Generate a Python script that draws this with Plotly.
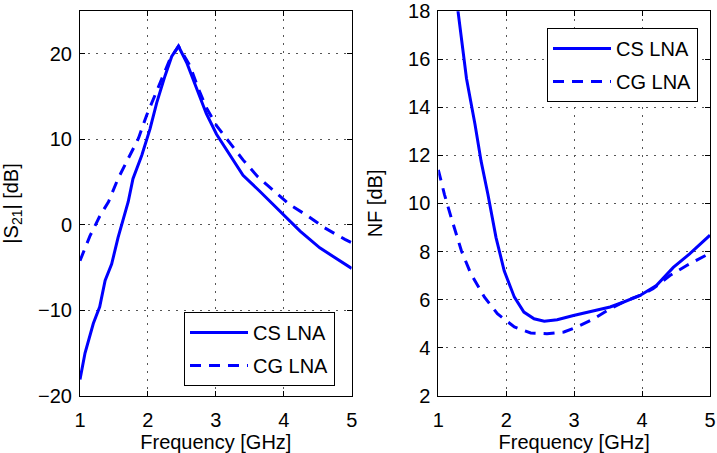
import plotly.graph_objects as go

# ---- Data ----
freq_s21_cs = [1.0, 1.074, 1.196, 1.29, 1.37, 1.466, 1.56, 1.637, 1.71, 1.78, 1.91, 2.03,
               2.13, 2.25, 2.35, 2.45, 2.57, 2.72, 2.86, 3.01, 3.21, 3.40, 3.65, 3.94,
               4.24, 4.53, 4.82, 5.0]
s21_cs = [-18.1, -15.0, -11.55, -9.6, -6.5, -4.6, -1.5, 0.6, 2.7, 5.4, 8.15, 11.2,
          14.3, 17.4, 19.7, 20.9, 19.0, 15.9, 13.0, 10.6, 8.15, 5.8, 3.9, 1.58,
          -0.74, -2.7, -4.2, -5.1]

freq_s21_cg = [1.0, 1.147, 1.29, 1.42, 1.56, 1.71, 1.86, 1.98, 2.10, 2.20, 2.32, 2.45,
               2.62, 2.74, 2.86, 3.01, 3.21, 3.40, 3.62, 3.84, 4.09, 4.36, 4.60, 4.90, 5.0]
s21_cg = [-4.2, -1.3, 1.0, 2.7, 5.4, 7.75, 10.1, 12.8, 15.1, 17.0, 19.3, 20.9,
          18.6, 16.0, 13.7, 11.6, 9.5, 7.6, 5.6, 4.1, 2.35, 1.0, -0.35, -1.7, -2.1]

freq_nf_cs = [1.0, 1.15, 1.29, 1.415, 1.54, 1.63, 1.73, 1.85, 1.97, 2.12, 2.26, 2.41, 2.56,
              2.75, 2.99, 3.29, 3.53, 3.73, 3.97, 4.21, 4.46, 4.70, 4.95, 5.0]
nf_cs = [24.5, 21.2, 18.0, 15.2, 13.3, 11.76, 10.38, 8.58, 7.2, 6.1, 5.48, 5.2, 5.1,
         5.16, 5.34, 5.52, 5.69, 5.9, 6.17, 6.58, 7.34, 7.9, 8.56, 8.68]

freq_nf_cg = [1.0, 1.09, 1.19, 1.34, 1.48, 1.68, 1.87, 2.12, 2.36, 2.60, 2.85, 3.04,
              3.29, 3.53, 3.77, 3.97, 4.16, 4.41, 4.65, 4.95, 5.0]
nf_cg = [11.4, 10.38, 9.41, 8.03, 7.07, 6.1, 5.41, 4.86, 4.61, 4.58, 4.65, 4.86,
         5.2, 5.62, 5.96, 6.17, 6.45, 7.0, 7.41, 7.87, 7.93]

x_ticks = [1, 2, 3, 4, 5]
s21_ticks = [-20, -10, 0, 10, 20]
nf_ticks = [2, 4, 6, 8, 10, 12, 14, 16, 18]

FONT = "Liberation Sans, Arial, Helvetica, sans-serif"
BLUE = "#0000FF"
FS = 20
DASH = "11px,8px"

W, H = 717, 453

fig = go.Figure()
fig.add_trace(go.Scatter(x=freq_s21_cs, y=s21_cs, mode="lines", name="CS LNA",
                         line=dict(color=BLUE, width=3), xaxis="x", yaxis="y",
                         legend="legend", legendgroup="a"))
fig.add_trace(go.Scatter(x=freq_s21_cg, y=s21_cg, mode="lines", name="CG LNA",
                         line=dict(color=BLUE, width=3, dash=DASH), xaxis="x", yaxis="y",
                         legend="legend", legendgroup="b"))
fig.add_trace(go.Scatter(x=freq_nf_cs, y=nf_cs, mode="lines", name="CS LNA",
                         line=dict(color=BLUE, width=3), xaxis="x2", yaxis="y2",
                         legend="legend2", legendgroup="c"))
fig.add_trace(go.Scatter(x=freq_nf_cg, y=nf_cg, mode="lines", name="CG LNA",
                         line=dict(color=BLUE, width=3, dash=DASH), xaxis="x2", yaxis="y2",
                         legend="legend2", legendgroup="d"))

common = dict(showline=True, linecolor="black", linewidth=1, mirror="ticks",
              ticks="inside", ticklen=5, tickcolor="black", tickwidth=1,
              showgrid=True, gridcolor="#555555", griddash="1.5px,6.5px", gridwidth=1,
              zeroline=False, tickfont=dict(size=FS, color="black", family=FONT),
              automargin=False, ticklabeloverflow="allow")

ydom = [(H - 395.7) / H, (H - 11.2) / H]
fig.update_layout(
    width=W, height=H,
    margin=dict(l=0, r=0, t=0, b=0),
    paper_bgcolor="white", plot_bgcolor="white",
    font=dict(family=FONT, size=FS, color="black"),
    xaxis=dict(domain=[80 / W, 351.7 / W], anchor="y", range=[1, 5], tickvals=x_ticks,
               ticklabelstandoff=6,
               title=dict(text="Frequency [GHz]", standoff=0, font=dict(size=FS)), **common),
    yaxis=dict(domain=ydom, anchor="x", range=[-20, 25], tickvals=s21_ticks,
               ticklabelstandoff=3,
               title=dict(text="|S<sub>21</sub>| [dB]", standoff=16, font=dict(size=FS)), **common),
    xaxis2=dict(domain=[438.3 / W, 710 / W], anchor="y2", range=[1, 5], tickvals=x_ticks,
                ticklabelstandoff=6,
                title=dict(text="Frequency [GHz]", standoff=0, font=dict(size=FS)), **common),
    yaxis2=dict(domain=ydom, anchor="x2", range=[2, 18], tickvals=nf_ticks,
                ticklabelstandoff=3,
                title=dict(text="NF [dB]", standoff=20, font=dict(size=FS)), **common),
    legend=dict(x=184 / W, y=(H - 312) / H, xanchor="left", yanchor="top",
                bgcolor="white", bordercolor="black", borderwidth=1, itemwidth=58,
                font=dict(size=FS, family=FONT), traceorder="grouped", tracegroupgap=4),
    legend2=dict(x=547 / W, y=(H - 28) / H, xanchor="left", yanchor="top",
                 bgcolor="white", bordercolor="black", borderwidth=1, itemwidth=58,
                 font=dict(size=FS, family=FONT), traceorder="grouped", tracegroupgap=4),
)

fig.write_html("out.html", config={"displayModeBar": False},
               post_script="document.body.style.margin='0';document.body.style.overflow='hidden';")
